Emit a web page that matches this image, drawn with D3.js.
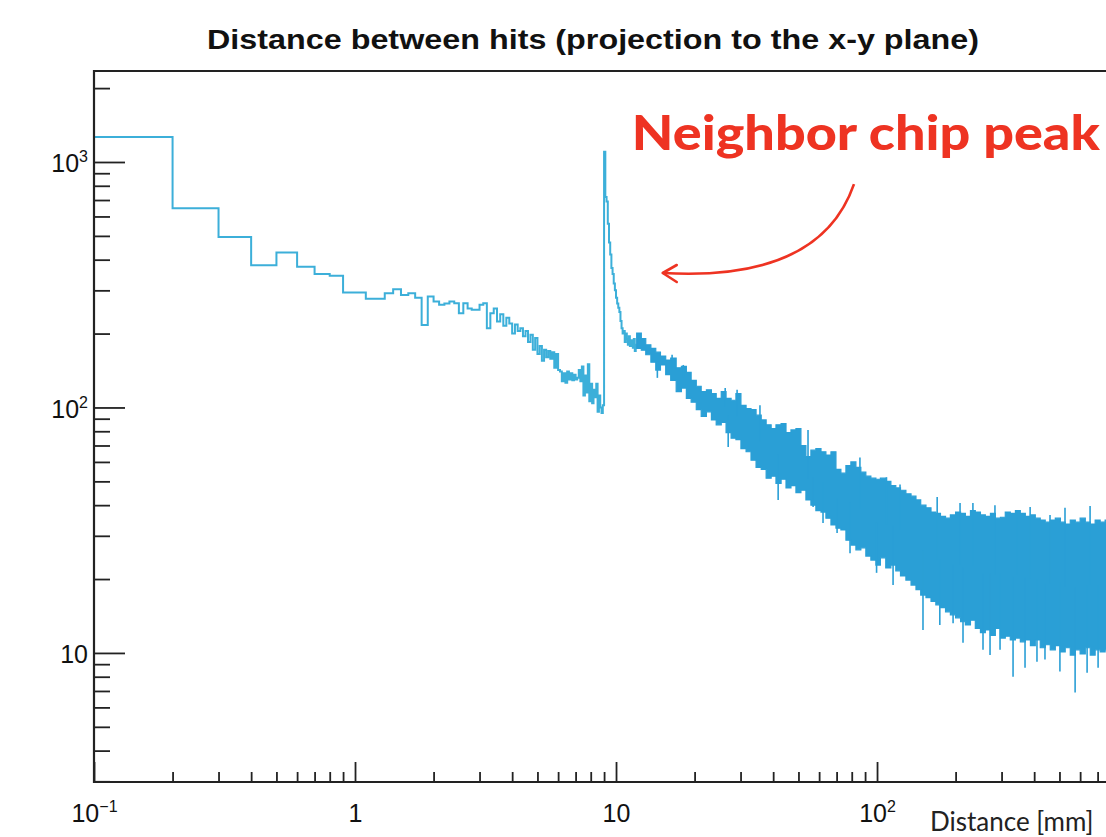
<!DOCTYPE html>
<html>
<head>
<meta charset="utf-8">
<script src="https://cdn.jsdelivr.net/npm/d3@7"></script>
<style>
  html, body { margin: 0; padding: 0; background: #fff; overflow: hidden; }
  svg { display: block; }
</style>
</head>
<body>
<div id="chart"></div>
<script>
const binStart = 0.1;
const binWidth = 0.1;
const binCounts = [
  1263, 648, 495, 380, 428, 374, 350, 344, 294, 294,
  277, 277, 292, 303, 287, 292, 280, 217, 283, 270,
  262, 265, 270, 266, 242, 266, 253, 250, 250, 262,
  266, 210, 242, 253, 224, 240, 215, 232, 220, 200,
  218, 205, 210, 195, 205, 185, 198, 172, 192, 165,
  178, 155, 172, 160, 170, 158, 168, 145, 165, 142,
  140, 128, 138, 126, 140, 130, 138, 129, 136, 130,
  132, 142, 128, 147, 112, 135, 115, 150, 106, 125,
  104, 118, 110, 125, 96, 112, 100, 95, 102, 1100,
  720, 690, 560, 470, 420, 370, 350, 320, 300, 280,
  265, 255, 245, 225, 210, 200, 205, 185, 200, 190,
  180, 195, 178, 188, 182, 175, 190, 170, 180
];

// above 12 mm the bins are denser than a pixel: upper / lower envelope of the band
const bandX = [
  12, 12.5, 13, 13.6, 14.2, 14.8, 15.5, 16.2, 17, 17.8,
  18.6, 19.4, 20.3, 21.2, 22.2, 23.2, 24.2, 25.3, 26.4, 27.6,
  28.8, 30.1, 31.5, 32.9, 34.4, 36, 37.6, 39.3, 41, 42.9,
  44.8, 46.8, 48.9, 51.1, 53.4, 55.8, 58.3, 61, 63.7, 66.6,
  69.6, 72.7, 76, 79.4, 83, 86.7, 90.6, 94.7, 99, 103,
  108, 113, 118, 123, 129, 135, 141, 147, 154, 161,
  168, 175, 183, 191, 200, 209, 218, 228, 238, 249,
  260, 272, 284, 297, 310, 324, 339, 354, 370, 387,
  404, 422, 441, 461, 482, 504, 526, 550, 575, 600,
  628, 656, 685, 716, 748, 782
];
const bandHi = [
  201, 191, 180, 174, 168, 162, 156, 159, 145, 147,
  139, 129, 122, 116, 118, 114, 109, 116, 109, 107,
  114, 102, 99, 98, 93, 89, 85, 82, 85, 86,
  79, 81, 82, 70, 63, 67, 68, 66, 64, 66,
  56, 54, 58, 60, 57, 54.5, 52.5, 51.5, 51, 51.5,
  50, 48, 47, 46, 44.5, 43.5, 42, 40, 39, 37.5,
  37, 36, 35.4, 36.5, 37.5, 37, 36, 38, 37.5, 36.5,
  36, 37, 35.4, 35.7, 37.5, 37, 38, 37, 36, 36.5,
  35.4, 34.8, 34.1, 34.8, 35.4, 34.1, 33.5, 34.8, 34.1, 35.4,
  34.1, 33.5, 34.8, 34.1, 34.8, 34.1
];
const bandLo = [
  174, 171, 164, 153, 142, 149, 136, 129, 116, 120,
  109, 105, 98, 92, 96, 89, 85, 87, 79, 75,
  74, 68, 66, 61, 57, 56, 51.5, 52.5, 49, 51,
  47, 48, 45, 46, 42, 40, 38, 37.5, 35.4, 33.2,
  32.2, 31.7, 28.8, 27.5, 26.3, 26.8, 24.8, 23.9, 22.8, 24.4,
  22.2, 22.8, 21.6, 20.6, 19.8, 18.9, 18.1, 17.2, 16.8, 16.2,
  15.7, 15.3, 14.7, 14.3, 13.9, 13.4, 13.0, 13.6, 12.6, 12.1,
  12.4, 11.8, 12.6, 11.5, 11.7, 11.3, 11.5, 11.1, 11.3, 10.7,
  11.3, 10.5, 10.8, 10.3, 10.7, 10.1, 10.5, 9.8, 10.3, 9.9,
  10.5, 9.8, 10.3, 10.1, 10.3, 10.3
];

// single-bin outliers sticking out of the band
const spikeX = [
  14.4, 16.4, 18.1, 26.2, 26.9, 29.1, 35.6, 41.8, 54.4, 56.9,
  62.1, 70.3, 78.8, 86, 99.6, 108.7, 115.2, 122.5, 150, 170,
  174, 195.6, 208, 213.5, 233, 254.7, 271, 283, 296, 332,
  344, 369, 386, 410, 440, 460, 502, 525, 574, 638,
  655, 703
];
const spikeV = [
  132, 164, 149, 120, 69, 118, 102, 42, 81, 39.3,
  33.8, 30.8, 25.5, 62.5, 21.2, 52, 18.9, 48.5, 12.4, 43.2,
  13.0, 13.2, 40.8, 11.0, 40.8, 10.3, 9.8, 40, 10.3, 8.0,
  38, 8.7, 39.3, 9.2, 9.4, 36.5, 8.4, 39, 6.9, 8.3,
  39.7, 8.7
];

const xMinorTicks = [0.2, 0.3, 0.4, 0.5, 0.6, 0.7, 0.8, 0.9, 2, 3, 4, 5, 6, 7, 8, 9,
  20, 30, 40, 50, 60, 70, 80, 90, 200, 300, 400, 500, 600, 700, 800, 900];
const xMajorTicks = [0.1, 1, 10, 100];
const xTickBase = ["10", "1", "10", "10"];
const xTickExp = ["\u22121", "", "", "2"];

const yMinorTicks = [3, 4, 5, 6, 7, 8, 9, 20, 30, 40, 50, 60, 70, 80, 90,
  200, 300, 400, 500, 600, 700, 800, 900, 2000];
const yMajorTicks = [10, 100, 1000];
const yTickBase = ["10", "10", "10"];
const yTickExp = ["", "2", "3"];

const titleText = "Distance between hits (projection to the x-y plane)";
const xTitle = "Distance [mm]";
const noteText = "Neighbor chip peak";
// annotation placed in data units: [mm, counts]
const notePos = [11.5, 1119];
const arrowFrom = [81.6, 813];
const arrowCtrl = [60.5, 324];
const arrowTo = [15.1, 353];

const W = 1106, H = 837;
const lineColor = "#3cafd9";
const bandColor = "#2a9fd6";
const red = "#ee3322";

const svg = d3.select("#chart").append("svg")
  .attr("width", W).attr("height", H)
  .style("font-family", "'Liberation Sans', Arial, Helvetica, sans-serif");

const x = d3.scaleLog().domain([0.1, 1500]).range([94, 1184]);
const y = d3.scaleLog().domain([2.98, 2348]).range([782, 71]);

svg.append("clipPath").attr("id", "plot")
  .append("rect").attr("x", 94).attr("y", 71).attr("width", 1100).attr("height", 711);

// title
svg.append("text")
  .attr("x", 593).attr("y", 49)
  .attr("text-anchor", "middle")
  .attr("font-weight", "bold")
  .attr("font-size", 27)
  .attr("textLength", 772).attr("lengthAdjust", "spacingAndGlyphs")
  .attr("fill", "#111")
  .text(titleText);

const plot = svg.append("g").attr("clip-path", "url(#plot)");

// low-distance bins as a step line
const stepPts = binCounts.map((c, i) => [binStart + i * binWidth, c]);
stepPts.push([binStart + binCounts.length * binWidth, binCounts[binCounts.length - 1]]);
plot.append("path")
  .attr("d", d3.line().x(d => x(d[0])).y(d => y(d[1])).curve(d3.curveStepAfter)(stepPts))
  .attr("fill", "none")
  .attr("stroke", lineColor)
  .attr("stroke-width", 2);

// dense band
const band = bandX.map((v, i) => ({ x: v, hi: bandHi[i], lo: bandLo[i] }));
plot.append("path")
  .attr("d", d3.area().x(d => x(d.x)).y0(d => y(d.lo)).y1(d => y(d.hi)).curve(d3.curveStepAfter)(band))
  .attr("fill", bandColor)
  .attr("stroke", bandColor)
  .attr("stroke-width", 1.2);

// outlier spikes
const bis = d3.bisector(d => d.x).right;
plot.append("g").selectAll("line")
  .data(spikeX.map((v, i) => ({ x: v, v: spikeV[i] })))
  .join("line")
  .attr("x1", d => x(d.x)).attr("x2", d => x(d.x))
  .attr("y1", d => y(d.v))
  .attr("y2", d => {
    const b = band[Math.max(0, bis(band, d.x) - 1)];
    return y(Math.sqrt(b.hi * b.lo));
  })
  .attr("stroke", bandColor)
  .attr("stroke-width", 1.6);

// axes: ticks pointing inwards
const axisStyle = g => {
  g.select(".domain").remove();
  g.selectAll(".tick line").attr("stroke", "#222").attr("stroke-width", 1.8);
  g.selectAll(".tick text").remove();
};

svg.append("g").attr("transform", "translate(0,782)")
  .call(d3.axisBottom(x).tickValues(xMinorTicks).tickSize(-10)).call(axisStyle);
const xMaj = svg.append("g").attr("transform", "translate(0,782)")
  .call(d3.axisBottom(x).tickValues(xMajorTicks).tickSize(-20)).call(axisStyle);

svg.append("g").attr("transform", "translate(94,0)")
  .call(d3.axisLeft(y).tickValues(yMinorTicks).tickSize(-16)).call(axisStyle);
const yMaj = svg.append("g").attr("transform", "translate(94,0)")
  .call(d3.axisLeft(y).tickValues(yMajorTicks).tickSize(-31)).call(axisStyle);

function powerLabel(t, base, exp) {
  t.append("tspan").text(base);
  if (exp) t.append("tspan").attr("dy", -10).attr("font-size", 16).text(exp);
}

xMaj.selectAll(".tick").each(function (d, i) {
  const t = d3.select(this).append("text")
    .attr("y", 40).attr("text-anchor", "middle")
    .attr("font-size", 25).attr("fill", "#111");
  powerLabel(t, xTickBase[i], xTickExp[i]);
});

yMaj.selectAll(".tick").each(function (d, i) {
  const t = d3.select(this).append("text")
    .attr("x", -6).attr("y", 10).attr("text-anchor", "end")
    .attr("font-size", 25).attr("fill", "#111");
  powerLabel(t, yTickBase[i], yTickExp[i]);
});

// frame
svg.append("path")
  .attr("d", "M1200,71 H94 V782 H1200")
  .attr("fill", "none")
  .attr("stroke", "#222")
  .attr("stroke-width", 2.2);

// x-axis title
svg.append("text")
  .attr("x", 930).attr("y", 831)
  .attr("font-family", "Lato, 'Open Sans', sans-serif")
  .attr("font-size", 26).attr("fill", "#222")
  .text(xTitle);

// annotation
svg.append("text")
  .attr("x", x(notePos[0])).attr("y", y(notePos[1]))
  .attr("font-family", "Lato, 'Open Sans', sans-serif")
  .attr("font-weight", 900)
  .attr("font-size", 48)
  .attr("textLength", 468).attr("lengthAdjust", "spacingAndGlyphs")
  .attr("fill", red)
  .text(noteText);

const p0 = [x(arrowFrom[0]), y(arrowFrom[1])];
const pc = [x(arrowCtrl[0]), y(arrowCtrl[1])];
const p1 = [x(arrowTo[0]), y(arrowTo[1])];
const arrow = d3.path();
arrow.moveTo(p0[0], p0[1]);
arrow.quadraticCurveTo(pc[0], pc[1], p1[0], p1[1]);
svg.append("path").attr("d", arrow.toString())
  .attr("fill", "none").attr("stroke", red).attr("stroke-width", 2.6);
svg.append("path")
  .attr("d", `M${p1[0] + 14},${p1[1] - 8} L${p1[0]},${p1[1]} L${p1[0] + 14},${p1[1] + 9}`)
  .attr("fill", "none").attr("stroke", red).attr("stroke-width", 2.6)
  .attr("stroke-linecap", "round").attr("stroke-linejoin", "round");
</script>
</body>
</html>
